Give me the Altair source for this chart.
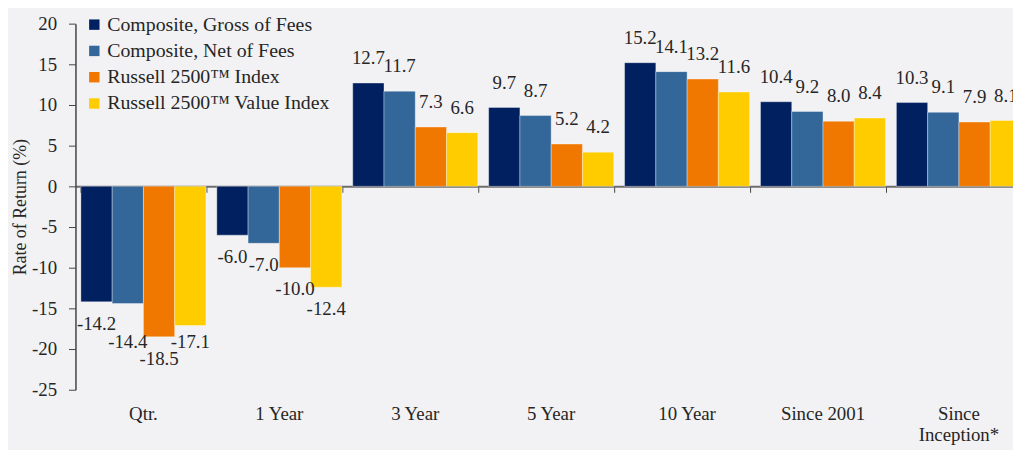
import altair as alt
import pandas as pd

periods = ["Qtr.", "1 Year", "3 Year", "5 Year", "10 Year", "Since 2001", "Since Inception*"]
series = ["Composite, Gross of Fees", "Composite, Net of Fees",
          "Russell 2500™ Index", "Russell 2500™ Value Index"]
gross = [-14.2, -6.0, 12.7, 9.7, 15.2, 10.4, 10.3]
net = [-14.4, -7.0, 11.7, 8.7, 14.1, 9.2, 9.1]
r2500 = [-18.5, -10.0, 7.3, 5.2, 13.2, 8.0, 7.9]
r2500v = [-17.1, -12.4, 6.6, 4.2, 11.6, 8.4, 8.1]
colors = ["#002060", "#336699", "#F07800", "#FFCC00"]
y_ticks = [-25, -20, -15, -10, -5, 0, 5, 10, 15, 20]

# ---- layout constants (styles, not data) ----
FONT = "Liberation Serif"
TXT = "#262626"
PLOT_W, PLOT_H = 945, 369
BAND_RANGE = 959           # full band range (last group runs past the right edge)
PAD_IN, PAD_OUT = 0.08, 0.04
LABEL_FS = 19
Y_DOMAIN = [-25, 20]
PX = PLOT_H / (Y_DOMAIN[1] - Y_DOMAIN[0])
STEP = BAND_RANGE / len(periods) * (1 - PAD_IN) / len(series)
BASE_NEG, BASE_POS, MINSEP, MIN_CLEAR = 22, 25, 18, 14


def est_width(s):
    return sum(0.5 if c.isdigit() else 0.25 if c == "." else 0.333 for c in s) * LABEL_FS


# simple label de-overlap: data labels are placed beyond the bar end and
# nudged when they collide with the neighbouring label
rows = []
all_vals = [gross, net, r2500, r2500v]
for i, p in enumerate(periods):
    prev = None
    for k, s in enumerate(series):
        v = all_vals[k][i]
        lab = f"{v:.1f}"
        w = est_width(lab)
        sgn = 1 if v >= 0 else -1
        base = v * PX + sgn * (BASE_POS if sgn > 0 else BASE_NEG)
        pos = base
        if prev is not None:
            pc, pw, ps = prev
            if ps == sgn and (w + pw) / 2 > STEP + 2 and abs(base - pc) < MINSEP:
                cands = [pc + MINSEP, pc - MINSEP]
                valid = [c for c in cands if sgn * (c - v * PX) >= MIN_CLEAR]
                if valid:
                    pos = min(valid, key=lambda c: abs(c - base))
        prev = (pos, w, sgn)
        rows.append({"period": p, "series": s, "value": v, "lbl": lab, "lbl_y": pos / PX})
df = pd.DataFrame(rows)
dfp = pd.DataFrame({"period": periods})

xscale = alt.Scale(domain=periods, paddingInner=PAD_IN, paddingOuter=PAD_OUT, range=[0, BAND_RANGE])
yscale = alt.Scale(domain=Y_DOMAIN, nice=False)

x_enc = alt.X("period:N", sort=periods, scale=xscale,
              axis=alt.Axis(title=None, domain=False, ticks=False, labelAngle=0,
                            labelFont=FONT, labelFontSize=19, labelColor=TXT,
                            labelPadding=15, labelLineHeight=21,
                            labelExpr="datum.value === 'Since Inception*' ? ['Since', 'Inception*'] : datum.value"))
xoff = alt.XOffset("series:N", sort=series, scale=alt.Scale(domain=series, paddingInner=0, paddingOuter=0))
y_axis = alt.Axis(title="Rate of Return (%)", values=y_ticks, grid=False,
                  domainColor="#444444", domainWidth=1.5, tickColor="#444444",
                  tickSize=7, labelPadding=12, labelFont=FONT, labelFontSize=19,
                  labelColor=TXT, titleFont=FONT, titleFontSize=18,
                  titleFontWeight="normal", titleColor=TXT, titlePadding=2,
                  labelExpr="replace(datum.label, '\u2212', '-')")
y_enc = alt.Y("value:Q", scale=yscale, axis=y_axis)
y_lbl = alt.Y("lbl_y:Q", scale=yscale, axis=y_axis)

bars = alt.Chart(df).mark_bar(stroke="white", strokeWidth=0.6, strokeOpacity=0.6).encode(
    x=x_enc, xOffset=xoff, y=y_enc,
    color=alt.Color("series:N", sort=series,
                    scale=alt.Scale(domain=series, range=colors),
                    legend=alt.Legend(title=None, orient="none", legendX=9, legendY=-9,
                                      symbolType="square", symbolSize=110, symbolStrokeWidth=0,
                                      labelFont=FONT, labelFontSize=20, labelColor=TXT,
                                      labelLimit=500, rowPadding=6.5, labelOffset=3)))

texts = alt.Chart(df).mark_text(
    font=FONT, fontSize=LABEL_FS, color=TXT, baseline="middle").encode(
    x=x_enc, xOffset=xoff, y=y_lbl,
    text=alt.Text("lbl:N"))

inner = alt.layer(bars, texts)

zero_axis = alt.Chart(dfp).mark_point(opacity=0).encode(
    x=alt.X("period:N", sort=periods, scale=xscale,
            axis=alt.Axis(title=None, orient="bottom", offset=-(PLOT_H - 20 * PX),
                          labels=False,
                          domain=True, domainColor="#6E6E6E", domainWidth=2,
                          ticks=True, tickBand="extent", tickSize=6, tickColor="#444444",
                          tickWidth=1)),
    y=alt.Y(datum=0))

chart = alt.layer(inner, zero_axis).resolve_axis(x="independent").properties(
    width=PLOT_W, height=PLOT_H, background="#F2F2F4",
    autosize=alt.AutoSizeParams(type="none"),
    padding={"left": 68, "top": 14, "right": 0, "bottom": 60}
).configure_view(stroke=None)

chart.save("out.html", embed_options={"renderer": "svg", "actions": False})
